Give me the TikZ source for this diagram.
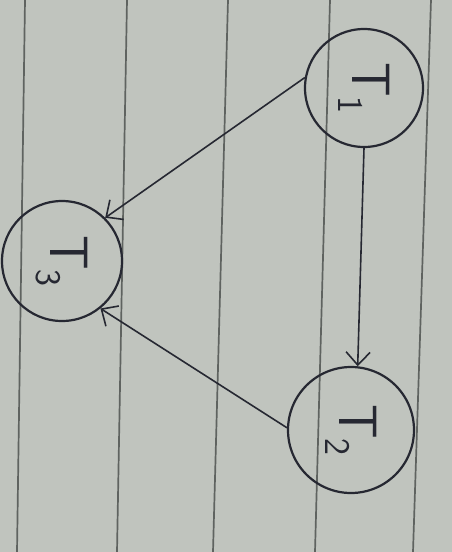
\documentclass[tikz,border=0pt]{standalone}
\usetikzlibrary{arrows.meta}
\definecolor{paper}{RGB}{192,196,190}
\definecolor{rule}{RGB}{95,99,96}
\definecolor{ink}{RGB}{38,40,50}
\newcommand{\tlabel}[1]{\rotatebox{-90}{T\raisebox{-14pt}{\fontsize{36}{40}\selectfont #1}}}
\tikzset{
  vert/.style={circle, draw=ink, line width=2.2pt, minimum size=#1, inner sep=0pt, text=ink, font=\sffamily\fontsize{54}{60}\selectfont},
  arr/.style={draw=ink, line width=1.6pt, -{Straight Barb[length=13pt,width=24pt,line width=1.6pt]}},
  ruling/.style={draw=rule, line width=1.7pt}
}
\begin{document}
\begin{tikzpicture}[x=1pt,y=-1pt]
\fill[paper] (0,0) rectangle (452,552);
\useasboundingbox (0,0) rectangle (452,552);
% ruled lines
\coordinate (r1a) at (25,0);  \coordinate (r1b) at (17,552);
\coordinate (r2a) at (127,0); \coordinate (r2b) at (117,552);
\coordinate (r3a) at (228,0); \coordinate (r3b) at (213,552);
\coordinate (r4a) at (330,0); \coordinate (r4b) at (315,552);
\coordinate (r5a) at (431,0); \coordinate (r5b) at (413,552);
\foreach \i in {1,...,5} { \draw[ruling] (r\i a) -- (r\i b); }
% vertices
\node[vert=118pt] (t1) at (364,88) {\tlabel{1}};
\node[vert=126pt] (t2) at (351,430) {\tlabel{2}};
\node[vert=120pt] (t3) at (62,261) {\tlabel{3}};
% edges
\draw[arr] (t1.170) -- (t3.45);
\draw[arr] (t1.-90) -- (t2.84);
\draw[arr] (t2.178) -- (t3.-51);
\end{tikzpicture}
\end{document}
